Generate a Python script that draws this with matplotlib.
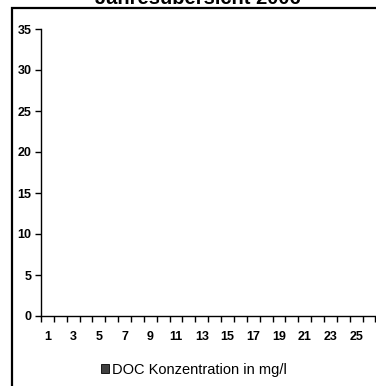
import matplotlib
matplotlib.use("Agg")
import matplotlib.pyplot as plt
from matplotlib.patches import Rectangle
import numpy as np

plt.rcParams['font.family'] = ['Liberation Sans', 'DejaVu Sans']

title = "Jahresübersicht 2006"
series_name = "DOC Konzentration in mg/l"
categories = list(range(1, 27))
doc_values = [None] * 26  # no measured values shown in the chart
y_ticks = [0, 5, 10, 15, 20, 25, 30, 35]
x_labels = [str(c) if c % 2 == 1 else "" for c in categories]

W, H = 376, 386
fig = plt.figure(figsize=(W / 100, H / 100), dpi=100)

# outer frame (chart area border), cropped at right/bottom
fig.patches.append(Rectangle((12 / W, -0.5), 2.0, (H - 8) / H + 0.5,
                             transform=fig.transFigure, fill=False,
                             edgecolor='black', linewidth=1.6, zorder=0))

fig.text(198 / W, 1 - 4 / H, title, ha='center', va='baseline',
         fontsize=14.5, fontweight='bold')

ax = fig.add_axes([41 / W, (H - 316) / H, (375.4 - 41) / W, (316 - 29) / H])
vals = np.array([np.nan if v is None else v for v in doc_values], dtype=float)
x = np.arange(len(categories))
ax.bar(x, np.nan_to_num(vals), width=0.6, color='#404040',
       edgecolor='black', linewidth=0.6, label=series_name)

ax.set_xlim(-0.5, len(categories) - 0.5)
ax.set_ylim(0, 35)
for s in ['top', 'right']:
    ax.spines[s].set_visible(False)
for s in ['left', 'bottom']:
    ax.spines[s].set_linewidth(1.0)

ax.set_yticks(y_ticks)
ax.set_yticklabels([str(v) for v in y_ticks], fontsize=9, fontweight='bold')
ax.tick_params(axis='y', direction='out', length=4, width=1, pad=3)

ax.set_xticks(np.arange(len(categories) + 1) - 0.5)
ax.set_xticklabels([])
ax.tick_params(axis='x', which='major', direction='out', length=4, width=1)
ax.set_xticks(x, minor=True)
ax.set_xticklabels(x_labels, minor=True, fontsize=9, fontweight='bold')
ax.tick_params(axis='x', which='minor', length=0, pad=11)

leg = fig.legend(loc='center', bbox_to_anchor=(194 / W, 1 - 370 / H),
                 frameon=False, fontsize=10.5, handlelength=0.55,
                 handleheight=0.55, handletextpad=0.2)

fig.savefig("out.png", dpi=100)
